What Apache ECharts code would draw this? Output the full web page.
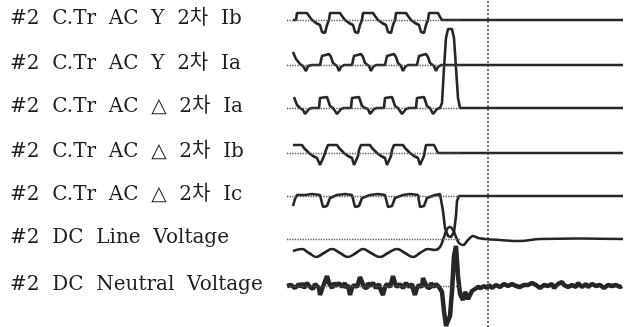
<!DOCTYPE html>
<html>
<head>
<meta charset="utf-8">
<script src="https://cdn.jsdelivr.net/npm/echarts@6/dist/echarts.min.js"></script>
<style>
    html, body { margin: 0; padding: 0; background: #fff; }
    #box { width: 630px; height: 327px; }
</style>
</head>
<body>
<div id="box"></div>
<script>
// channel names, top to bottom
var traceLabels = [
    '#2 C.Tr AC Y 2차 Ib',
    '#2 C.Tr AC Y 2차 Ia',
    '#2 C.Tr AC △ 2차 Ia',
    '#2 C.Tr AC △ 2차 Ib',
    '#2 C.Tr AC △ 2차 Ic',
    '#2 DC Line Voltage',
    '#2 DC Neutral Voltage'
];

// time in ms, value in trace units
var timeMax = 169;
var cursorTime = 101.5;
var refEnd = 88;

var yIb = [[4,0],[5.5,0],[6,7],[7,9],[8.5,7],[11,7],[12,4],[13.5,0],[15.5,-3],[17.5,-5],[18.5,-12],[20,-13],[21,-5],[22,0],
    [22.5,7],[23.5,9],[25,7],[27.5,7],[28.5,4],[30,0],[32,-3],[34,-5],[35,-12],[36.5,-13],[37.5,-5],[38.5,0],
    [39,7],[40,9],[41.5,7],[44,7],[45,4],[46.5,0],[48.5,-3],[50.5,-5],[51.5,-12],[53,-13],[54,-5],[55,0],
    [55.5,7],[56.5,9],[58,7],[60.5,7],[61.5,4],[63,0],[65,-3],[67,-5],[68,-12],[69.5,-13],[70.5,-5],[71.5,0],
    [72,7],[73,9],[74.5,7],[76.5,7],[77.5,3],[78.5,0],[169,0]];

var yIa = [[4,13],[5.5,6],[7.5,1],[9,-1],[10.5,-6],[11.5,-1],[13.5,0],
    [17.5,0],[18.5,9],[19.5,11],[22,11],[23,8],[24,2],[25,0],[26,-1],[27,-6],[28,-2],[29.5,0],
    [33.5,0],[34.5,9],[35.5,11],[38,11],[39,8],[40,2],[41,0],[42,-1],[43,-6],[44,-2],[45.5,0],
    [50,0],[51,9],[52,11],[54.5,11],[55.5,8],[56.5,2],[57.5,0],[58,-1],[59,-6],[60,-2],[61.5,0],
    [66,0],[67,9],[68,11],[70.5,11],[71.5,8],[72.5,2],[73.5,0],[74.5,-1],[75.5,-6],[76.5,-2],[78,0],[169,0]];

var dIa = [[4.5,11],[5.5,11],[6,3],[7.5,0],[9,-2],[10,-6],[11,-5],[12,-1],[13.5,0],
    [17,0],[17.5,10],[18.5,11],[21,11],[22,10],[22.5,2],[24,0],[25,-1],[26,-6],[27,-4],[28,-1],[29.5,0],
    [33,0],[33.5,10],[34.5,11],[37,11],[38,10],[38.5,2],[40,0],[41.5,-1],[42.5,-6],[43.5,-4],[44.5,-1],[46,0],
    [49.5,0],[50,10],[51,11],[53.5,11],[54.5,10],[55,2],[56.5,0],[57.5,-1],[58.5,-6],[59.5,-4],[60.5,-1],[62,0],
    [65.5,0],[66,10],[67,11],[69.5,11],[70.5,10],[71,2],[72.5,0],[73,-1],[74,-6],[75,-4],[76,-1],[77.5,0],
    [78.5,5],[79.5,40],[80.5,70],[81.5,79],[82.5,81],[83.5,79],[84.5,70],[85.5,40],[86.5,10],[87.5,0],[169,0]];

var dIb = [[4,8],[5,9],[8.5,8],[9.5,5],[10.5,4],[12,0],[14,-3],[16,-5],[17.5,-12],[18.5,-11],[19.5,-3],[20.5,3],
    [21.5,8],[22.5,9],[26,8],[27,5],[28,4],[29.5,0],[31.5,-3],[33.5,-5],[34.5,-12],[35.5,-11],[36.5,-3],[37,3],
    [38,8],[39,9],[42.5,8],[43.5,5],[44.5,4],[46,0],[48,-3],[50,-5],[51,-12],[52,-11],[53,-3],[53.5,3],
    [54.5,8],[55.5,9],[59,8],[60,5],[61,4],[62.5,0],[64.5,-3],[66.5,-5],[67.5,-12],[68.5,-11],[69.5,-3],[70,3],
    [70.5,8],[71.5,9],[74.5,8],[75.5,4],[76.5,0],[169,0]];

var dIc = [[4,-10],[5,-3],[6,1],[10,1],[13.5,2],[17.5,1],[18.5,0],[19,-11],[21,-10],[22.5,-2],[23.5,0],
    [26,1],[30,2],[33.5,1],[34.5,0],[35,-11],[37,-10],[38.5,-2],[39.5,0],
    [42.5,1],[46.5,2],[50,1],[51,0],[51.5,-11],[53.5,-10],[55,-2],[56,0],
    [59,1],[62.5,2],[66.5,1],[67,0],[67.5,-11],[69.5,-10],[71,-2],[72,0],
    [75,1],[77.5,2],[78.5,0],[79,-15],[80,-32],[81.5,-40],[83,-41],[84.5,-36],[85.5,-20],[86,-5],[87,0],[169,0]];

var dcLine = [[4,-12],[8.5,-10],[12,-14],[15.5,-18],[19.5,-14],[23.5,-10],[27.5,-14],[31.5,-18],[35.5,-14],
    [39,-10],[43,-14],[47.5,-18],[51.5,-14],[56,-10],[60,-14],[64,-18],[67.5,-14],[71.5,-10],[75,-11],[77.5,-8],
    [79.5,2],[81,10],[82.5,12],[84,9],[85.5,2],[87,-4],[89,-6],[91.5,-1],[94,3],[96.5,1],[100,0],
    [107.5,-1],[117.5,-2],[127.5,0],[147.5,0.5],[169,0]];

var dcNeutral = [[1,0],[2,-2],[3,1],[4,3],[5,-2],[6,0],[7,2],[8,-1],[8.5,3],[9.5,-2],[10,-1],[11,3],[11.5,2],[12.5,-1],[13,0],
    [14,-3],[15,2],[16,1],[17,-2],[17.5,-9],[18.5,-3],[19.5,2],[20.5,4],[21,10],[22,3],[23,1],[23.5,-2],[24.5,3],
    [25.5,0],[26,-2],[27,3],[27.5,2],[28.5,-1],[29,0],[30,3],[30.5,-2],[31.5,1],[32,1],[32.5,-9],[33.5,-2],[34.5,1],
    [35,3],[36,-1],[36.5,2],[37.5,9],[38.5,4],[39.5,-1],[40,1],[41,-2],[41.5,3],[42.5,0],[43,-1],[44,3],[44.5,2],
    [45.5,-2],[46,0],[47,2],[47.5,-2],[48.5,-1],[49,-9],[50,-1],[51,2],[51.5,3],[52.5,-1],[53,2],[54,10],[55,3],
    [56,-1],[56.5,1],[57.5,2],[58,4],[59,-2],[59.5,-1],[60.5,3],[61,2],[62,-1],[62.5,0],[63.5,2],[64,-3],[65,-9],
    [66,-2],[67,1],[67.5,2],[68.5,-1],[69,8],[70,3],[71,-1],[71.5,1],[72.5,-2],[73,3],[74,1],[74.5,-1],[75.5,2],
    [76,2],[77,-1],[77.5,-2],
    [78.5,-6],[79.5,-25],[80.5,-40],[81.5,-42],[82.5,-30],[83.5,-5],[84.5,30],[85.5,40],[86.5,10],[87.5,-8],
    [89,-14],[90,-6],[90.5,-8],[91.5,-13],[92,-12],[93.5,-5],[94.5,-7],[95,-3],[96.5,-1],[97.5,-3],[98,-2],[99.5,0],
    [101,-2],[102,1],[102.5,0],[103.5,-2],[104.5,-1],[105.5,1],[106.5,2],[107.5,-1],[108.5,0],[109.5,2],[110.5,3],
    [111.5,0],[112.5,-1],[113.5,2],[114.5,4],[115.5,0],[116.5,1],[117.5,-1],[118.5,-2],[119.5,1],[120.5,3],[121.5,1],
    [122.5,0],[123.5,3],[124.5,4],[125.5,1],[126.5,1],[127.5,-2],[128.5,-2],[129.5,1],[130.5,3],[131.5,0],[132.5,0],
    [133.5,2],[134.5,-2],[135.5,0],[136.5,2],[137.5,3],[138.5,4],[139.5,1],[140.5,0],[141.5,-1],[142.5,-2],[143.5,1],
    [144.5,2],[145.5,-1],[146.5,3],[147.5,1],[148.5,-1],[149.5,0],[150.5,2],[151.5,-1],[152.5,0],[153.5,2],[154.5,3],
    [155.5,0],[156.5,-1],[157.5,1],[158.5,1],[159.5,-2],[160.5,-1],[161.5,1],[162.5,2],[163.5,0],[164.5,-1],[165.5,1],
    [166.5,1],[167.5,-1],[168.5,0]];

var traces = [yIb, yIa, dIa, dIb, dIc, dcLine, dcNeutral];

var myChart = echarts.init(document.getElementById('box'));

var baseY = [20, 65, 108, 153, 196, 239, 286]; // baseline of each strip, px
var halfH = 20;
var plotLeft = 285, plotRight = 7;
var ink = '#262626';

var grids = [], xAxes = [], yAxes = [], series = [], texts = [];

baseY.forEach(function (b, i) {
    grids.push({ left: plotLeft, right: plotRight, top: b - halfH, height: halfH * 2 });
    xAxes.push({ type: 'value', gridIndex: i, min: 0, max: timeMax, show: false });
    yAxes.push({ type: 'value', gridIndex: i, min: -halfH, max: halfH, show: false });
    series.push({
        type: 'line',
        xAxisIndex: i,
        yAxisIndex: i,
        data: traces[i],
        symbol: 'none',
        clip: false,
        smooth: i === 5 ? 0.4 : false,
        lineStyle: { color: ink, width: i === 6 ? 4.5 : 2.6 },
        markLine: {
            silent: true,
            symbol: 'none',
            label: { show: false },
            lineStyle: { type: 'dotted', color: '#555', width: 1.3 },
            data: [[{ coord: [1, 0] }, { coord: [refEnd, 0] }]]
        }
    });
    texts.push({
        type: 'text',
        x: 10,
        y: b - 1,
        style: {
            text: traceLabels[i].split(' ').join('  '),
            font: '20px "DejaVu Serif", "Noto Sans CJK KR", serif',
            fill: '#1e1e1e',
            verticalAlign: 'middle'
        }
    });
});

// vertical cursor across all channels
grids.push({ left: plotLeft, right: plotRight, top: 0, bottom: 0 });
xAxes.push({ type: 'value', gridIndex: 7, min: 0, max: timeMax, show: false });
yAxes.push({ type: 'value', gridIndex: 7, min: 0, max: 1, show: false });
series.push({
    type: 'line',
    xAxisIndex: 7,
    yAxisIndex: 7,
    data: [[cursorTime, 0], [cursorTime, 1]],
    symbol: 'none',
    lineStyle: { type: [2, 2], color: '#444', width: 1.5 }
});

myChart.setOption({
    animation: false,
    backgroundColor: '#fff',
    grid: grids,
    xAxis: xAxes,
    yAxis: yAxes,
    series: series,
    graphic: texts
});
</script>
</body>
</html>
